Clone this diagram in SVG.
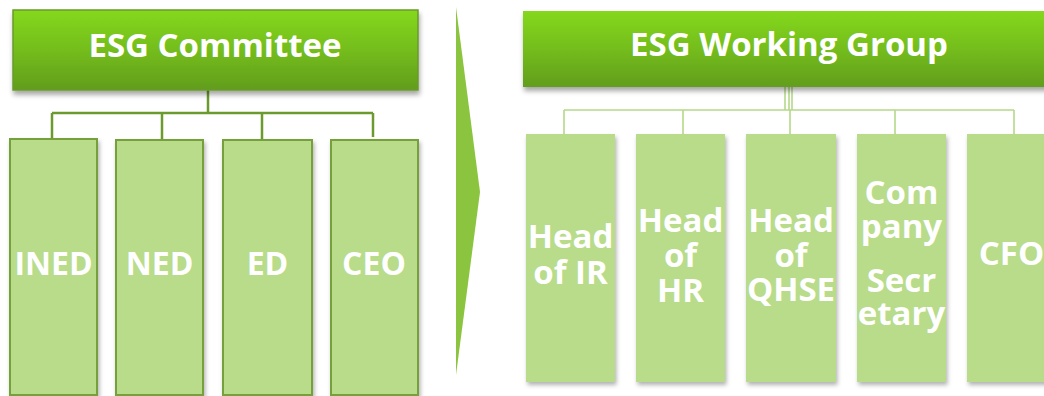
<svg xmlns="http://www.w3.org/2000/svg" width="1044" height="396" viewBox="0 0 1044 396">
  <defs>
    <linearGradient id="hdrFill" x1="0" y1="0" x2="0" y2="1">
      <stop offset="0" stop-color="#84d81f"/>
      <stop offset="0.5" stop-color="#74bd1e"/>
      <stop offset="1" stop-color="#629d1b"/>
    </linearGradient>
    <filter id="hdrShadow" x="-5%" y="-10%" width="110%" height="130%">
      <feDropShadow dx="1" dy="4" stdDeviation="2.5" flood-color="#000" flood-opacity="0.35"/>
    </filter>
    <filter id="boxShadow" x="-10%" y="-5%" width="125%" height="112%">
      <feDropShadow dx="1.5" dy="3" stdDeviation="2" flood-color="#000" flood-opacity="0.3"/>
    </filter>
  </defs>
  <style>
    .hdr { fill: url(#hdrFill); filter: url(#hdrShadow); }
    .hdr-l { stroke: #6a9a2c; stroke-width: 1.5; }
    .box-l { fill: #b8dc8a; stroke: #76a03a; stroke-width: 2; filter: url(#boxShadow); }
    .box-r { fill: #b8dc8a; filter: url(#boxShadow); }
    .lbl { font-family: "Open Sans", "Noto Sans", "DejaVu Sans", sans-serif; font-weight: bold; fill: #ffffff; text-anchor: middle; }
    .t-hdr { font-size: 33px; }
    .t-left { font-size: 32px; }
    .t-right { font-size: 33px; }
    .wire-l { fill: none; stroke: #6b9a2e; stroke-width: 2.5; }
    .wire-r { fill: none; stroke: #b5d98a; stroke-width: 1.6; }
  </style>

  <!-- transition chevron between the two bodies -->
  <polygon id="chevron" points="456,7 480,192 456,375" fill="#8bc53f"/>

  <!-- connectors -->
  <g id="connectors">
    <path class="wire-l" d="M208,90 V113 M52,113 H373 M52,113 V139 M162,113 V139 M262,113 V139 M373,113 V137"/>
    <path class="wire-r" d="M785,87 V110 M789,87 V110 M792,87 V110 M564,110 H1014 M564,110 V134 M683,110 V134 M790,110 V134 M895,110 V134 M1014,110 V134"/>
  </g>

  <!-- committee -->
  <g id="esg-committee">
    <rect class="hdr hdr-l" x="13" y="10" width="405" height="80"/>
    <text class="lbl t-hdr" x="215" y="57">ESG Committee</text>
  </g>
  <g id="ined">
    <rect class="box-l" x="10" y="139" width="87" height="256"/>
    <text class="lbl t-left" x="53.5" y="275">INED</text>
  </g>
  <g id="ned">
    <rect class="box-l" x="116" y="140" width="87" height="255"/>
    <text class="lbl t-left" x="159.5" y="275">NED</text>
  </g>
  <g id="ed">
    <rect class="box-l" x="223" y="140" width="89" height="255"/>
    <text class="lbl t-left" x="267.5" y="275">ED</text>
  </g>
  <g id="ceo">
    <rect class="box-l" x="331" y="140" width="87" height="255"/>
    <text class="lbl t-left" x="374" y="275">CEO</text>
  </g>

  <!-- working group -->
  <g id="esg-working-group">
    <rect class="hdr" x="523" y="11" width="532" height="76"/>
    <text class="lbl t-hdr" x="789" y="56">ESG Working Group</text>
  </g>
  <g id="head-ir">
    <rect class="box-r" x="526" y="134" width="89" height="248"/>
    <text class="lbl t-right"><tspan x="570.5" y="248">Head</tspan><tspan x="570.5" y="284">of IR</tspan></text>
  </g>
  <g id="head-hr">
    <rect class="box-r" x="636" y="134" width="89" height="248"/>
    <text class="lbl t-right"><tspan x="680.5" y="232">Head</tspan><tspan x="680.5" y="267">of</tspan><tspan x="680.5" y="302">HR</tspan></text>
  </g>
  <g id="head-qhse">
    <rect class="box-r" x="746" y="134" width="90" height="248"/>
    <text class="lbl t-right"><tspan x="791" y="232">Head</tspan><tspan x="791" y="267">of</tspan><tspan x="791" y="301">QHSE</tspan></text>
  </g>
  <g id="company-secretary">
    <rect class="box-r" x="857" y="134" width="89" height="248"/>
    <text class="lbl t-right"><tspan x="901.5" y="204">Com</tspan><tspan x="901.5" y="238">pany</tspan><tspan x="901.5" y="292">Secr</tspan><tspan x="901.5" y="325">etary</tspan></text>
  </g>
  <g id="cfo">
    <rect class="box-r" x="967" y="134" width="89" height="248"/>
    <text class="lbl t-right" x="1011.5" y="265">CFO</text>
  </g>
</svg>
